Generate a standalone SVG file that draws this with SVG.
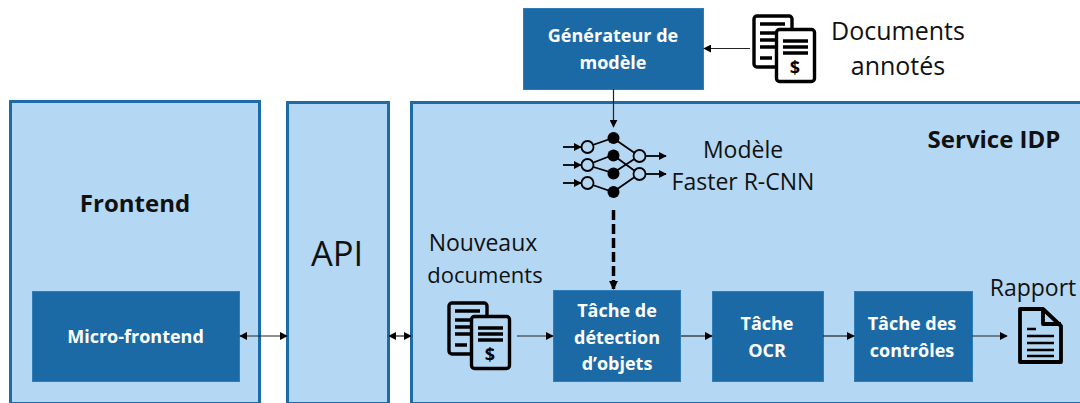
<svg xmlns="http://www.w3.org/2000/svg" xmlns:xlink="http://www.w3.org/1999/xlink" width="1080" height="403" viewBox="0 0 1080 403">
<style>
text{font-family:"Open Sans","Noto Sans","Liberation Sans",sans-serif;text-anchor:middle;fill:#111}
.panel{fill:#b4d8f3;stroke:#1d6ba7;stroke-width:3}
.box{fill:#1b6aa5;stroke:#2f7db8;stroke-width:1}
.w{fill:#fff;font-weight:700;font-size:18px}
.l{font-size:23px}
.b{font-weight:700}
.c{fill:none;stroke:#222;stroke-width:1.2}
.ink{fill:none;stroke:#000;stroke-width:3.4;stroke-linejoin:round}
.net{stroke:#000;stroke-width:1.8;fill:none}
</style>
<defs>
<marker id="a" viewBox="0 0 10 10" refX="9" refY="5" markerWidth="8" markerHeight="8" markerUnits="userSpaceOnUse" orient="auto-start-reverse"><path d="M0 0L10 5L0 10z" fill="#000"/></marker>
<marker id="n" viewBox="0 0 10 10" refX="9" refY="5" markerWidth="8" markerHeight="10" markerUnits="userSpaceOnUse" orient="auto"><path d="M0 0L10 5L0 10z" fill="#000"/></marker>
<marker id="d" viewBox="0 0 10 10" refX="9" refY="5" markerWidth="9" markerHeight="10" markerUnits="userSpaceOnUse" orient="auto"><path d="M0 0L10 5L0 10z" fill="#000"/></marker>
<g id="docs">
<rect class="ink" x="754" y="16" width="38" height="51" rx="3"/>
<path class="ink" d="M760 24H785M760 33H776M760 40H776M760 47H776M760 58H772"/>
<rect x="776.500" y="29.500" width="38" height="52" rx="3" fill="inherit" stroke="#000" stroke-width="3.400"/>
<path class="ink" d="M783 41H808M783 47H808M783 53H808"/>
<text x="795" y="74" style="font-size:18px;font-weight:700;fill:#000">$</text>
</g>
</defs>
<rect width="1080" height="403" fill="#fff"/>
<g id="frontend"><rect class="panel" x="10.5" y="101.5" width="249" height="302"/><text class="b" x="135" y="212" font-size="24">Frontend</text></g>
<g id="api"><rect class="panel" x="287.5" y="102.5" width="101" height="301"/><text x="337" y="266" font-size="34.500">API</text></g>
<g id="service-idp"><rect class="panel" x="411.5" y="102.5" width="675" height="301"/><text class="b" x="994" y="148" font-size="24">Service IDP</text></g>
<g id="micro-frontend"><rect class="box" x="32.5" y="291.5" width="207" height="90"/><text class="w" x="135.500" y="343">Micro-frontend</text></g>
<g id="generateur"><rect class="box" x="523.5" y="8.5" width="180" height="81"/><text class="w" x="613" y="42">Générateur de</text><text class="w" x="613" y="69">modèle</text></g>
<g id="tache-detection"><rect class="box" x="553.5" y="290.5" width="127" height="91"/><text class="w" x="617" y="317">Tâche de</text><text class="w" x="617" y="344">détection</text><text class="w" x="617" y="370">d’objets</text></g>
<g id="tache-ocr"><rect class="box" x="712.5" y="291.5" width="111" height="90"/><text class="w" x="767" y="330">Tâche</text><text class="w" x="767" y="357">OCR</text></g>
<g id="tache-controles"><rect class="box" x="854.5" y="291.5" width="118" height="90"/><text class="w" x="912" y="330">Tâche des</text><text class="w" x="912" y="357">contrôles</text></g>
<g id="documents-annotes"><use href="#docs" xlink:href="#docs" fill="#fff"/><text class="l" x="898" y="40" style="font-size:25px">Documents</text><text class="l" x="898" y="75" style="font-size:25px">annotés</text></g>
<g id="nouveaux-documents"><use href="#docs" xlink:href="#docs" x="-305" y="287" fill="#b4d8f3"/><text class="l" x="483" y="251">Nouveaux</text><text class="l" x="485" y="283" style="font-size:22px">documents</text></g>
<g id="rapport"><text class="l" x="1033" y="296">Rapport</text>
<path class="ink" style="stroke-width:3.800" d="M1020 309H1043L1061 326V362H1020zM1043 309V324H1061"/>
<path class="ink" d="M1027 329H1036M1027 336H1054M1027 343H1054M1027 350H1054M1027 356H1054" style="stroke-width:2.400"/></g>
<g id="modele"><text class="l" x="743" y="158">Modèle</text><text class="l" x="743" y="190">Faster R-CNN</text>
<path class="net" d="M587 147L613 138L639 156M587 165L613 155L639 174M587 165L613 173L639 156M587 183L613 192L639 174"/>
<path class="net" marker-end="url(#n)" d="M563 147H581"/><path class="net" marker-end="url(#n)" d="M563 165H581"/><path class="net" marker-end="url(#n)" d="M563 183H581"/><path class="net" marker-end="url(#n)" d="M645 156H666"/><path class="net" marker-end="url(#n)" d="M645 174H666"/>
<g fill="#000"><circle cx="613.5" cy="138" r="6"/><circle cx="613.5" cy="155.500" r="6"/><circle cx="613.5" cy="173.500" r="6"/><circle cx="613.5" cy="192" r="6"/></g>
<g fill="#b4d8f3" stroke="#000" stroke-width="1.8"><circle cx="587.500" cy="147" r="6"/><circle cx="587.500" cy="165" r="6"/><circle cx="587.500" cy="183" r="6"/><circle cx="639.500" cy="156" r="6"/><circle cx="639.500" cy="174" r="6"/></g></g>
<g id="connectors">
<path class="c" d="M750 48.500H704" marker-end="url(#a)"/>
<path class="c" d="M613.500 89V127" marker-end="url(#a)"/>
<path d="M613.500 210V289" fill="none" stroke="#000" stroke-width="3.500" stroke-dasharray="10 4" marker-end="url(#d)"/>
<path class="c" d="M240 336H287" marker-start="url(#a)" marker-end="url(#a)"/>
<path class="c" d="M389 336H411" marker-start="url(#a)" marker-end="url(#a)"/>
<path class="c" d="M517 336H553" marker-end="url(#a)"/>
<path class="c" d="M681 336H712" marker-end="url(#a)"/>
<path class="c" d="M823 336H854" marker-end="url(#a)"/>
<path class="c" d="M972 336H1007" marker-end="url(#a)"/>
</g>
</svg>
